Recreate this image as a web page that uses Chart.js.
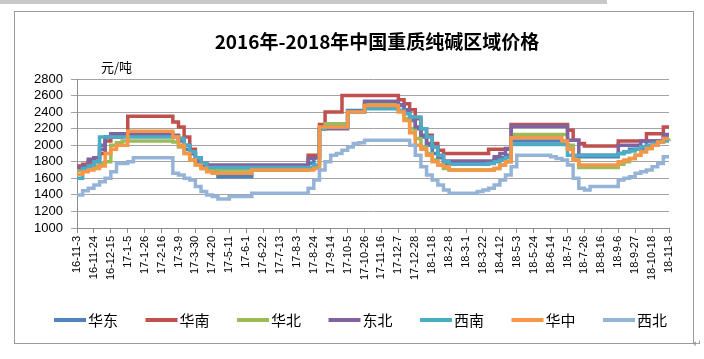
<!DOCTYPE html>
<html><head><meta charset="utf-8">
<script src="https://cdn.jsdelivr.net/npm/chart.js@4"></script>
<style>
html,body{margin:0;padding:0;background:#fff;}
#wrap{position:relative;width:704px;height:359px;overflow:hidden;background:#fff;}
#c{position:absolute;left:0;top:0;}
#topbar{position:absolute;left:0;top:0;width:607px;height:4px;background:#c8c8c8;}
#frame{position:absolute;left:14px;top:11px;width:678px;height:331px;border:1px solid #9a9a9a;pointer-events:none;}
#ret{position:absolute;left:693px;top:338px;font:10px 'DejaVu Sans';color:#888;}
</style></head>
<body><div id="wrap"><canvas id="c" width="704" height="359"></canvas><div id="topbar"></div><div id="frame"></div><span id="ret">↵</span></div>
<script>
const titleText = '2016年-2018年中国重质纯碱区域价格';
const unitText = '元/吨';
const tickLabels = ['16-11-3','16-11-24','16-12-15','17-1-5','17-1-26','17-2-16','17-3-9','17-3-30','17-4-20','17-5-11','17-6-1','17-6-22','17-7-13','17-8-3','17-8-24','17-9-14','17-10-5','17-10-26','17-11-16','17-12-7','17-12-28','18-1-18','18-2-8','18-3-1','18-3-22','18-4-12','18-5-3','18-5-24','18-6-14','18-7-5','18-7-26','18-8-16','18-9-6','18-9-27','18-10-18','18-11-8'];
const seriesNames = ['华东','华南','华北','东北','西南','华中','西北'];
const seriesColors = ['#4F81BD','#C0504D','#9BBB59','#8064A2','#4BACC6','#F79646','#95B3D7'];

// weekly categories from 16-11-3 to 18-11-8
const categories = [];
for (let k = 0; k < 106; k++) {
  const d = new Date(2016, 10, 3 + 7 * k);
  categories.push(String(d.getFullYear()).slice(2) + '-' + (d.getMonth() + 1) + '-' + d.getDate());
}

const huadong = [1700,1720,1760,1800,2000,2100,
 2120,2120,2120,2120,2120,2120,2120,2120,2120,2120,2120,
 2100,2050,1950,1900,1800,1750,1700,1680,
 1620,1620,1620,1620,1620,1620,
 1700,1700,1700,1700,1700,1700,1700,1700,1700,1700,
 1780,1850,2200,
 2220,2220,2220,2220,
 2420,2420,2420,
 2500,2500,2500,2500,2500,2500,
 2480,2400,2300,2200,2100,2000,1900,1850,
 1780,1780,1780,1780,1780,1780,1780,1780,
 1800,1830,1850,1880,
 2050,2050,2050,2050,2050,2050,2050,2050,2050,2050,
 1950,1870,
 1860,1860,1860,1860,1860,1860,1860,
 1900,1920,
 1950,1950,1950,
 2050,2050,2050,
 2100,2100];

const huanan = [1750,1770,1800,1850,1900,2050,2100,2100,2120,
 2350,2350,2350,2350,2350,2350,2350,2350,
 2280,2220,2100,1950,1850,1780,
 1750,1750,1750,1750,1750,1750,1750,1750,1750,1750,1750,1750,1750,1750,1750,1750,1750,1750,
 1880,1880,2250,2400,2400,2400,
 2600,2600,2600,2600,2600,2600,2600,2600,2600,2600,
 2550,2500,2430,2320,2200,2120,2020,1940,
 1900,1900,1900,1900,1900,1900,1900,1900,
 1950,1950,1950,1950,
 2250,2250,2250,2250,2250,2250,2250,2250,2250,2250,
 2180,2060,
 2020,
 1990,1990,1990,1990,1990,1990,
 2050,2050,2050,2050,2050,
 2140,2140,2140,
 2220,2220];

const huabei = [1700,1700,1720,1750,1780,1800,2000,2030,
 2050,2050,2050,2050,2050,2050,2050,2050,2050,
 2040,1980,1900,1820,1760,1720,
 1700,1700,1700,1700,1700,1700,1700,1700,1700,1700,1700,1700,1700,1700,1700,1700,1700,1700,
 1720,1750,2200,
 2260,2260,2260,2260,
 2400,2400,2400,
 2490,2490,2490,2490,2490,2490,
 2420,2320,2200,2080,1980,1900,1820,1760,1720,
 1700,1700,1700,1700,1700,1700,1700,1700,
 1720,1760,1800,
 2130,2130,2130,2130,2130,2130,2130,2130,2130,
 2130,2000,1820,
 1730,1730,1730,1730,1730,1730,1730,
 1770,1800,1840,1880,1920,1960,2000,2040,2070,2080];

const dongbei = [1730,1750,1830,1850,1950,2100,
 2140,2140,2140,2140,2140,2140,2140,2140,2140,2140,2140,
 2120,2080,2000,1900,1820,1780,
 1760,1760,1760,1760,1760,1760,1760,1760,1760,1760,1760,1760,1760,1760,1760,1760,1760,1760,
 1840,1850,
 2200,2200,2200,2200,2200,
 2400,2400,2400,
 2530,2530,2530,2530,2530,2530,
 2490,2430,2340,2220,2120,2020,1980,1860,
 1810,1810,1810,1810,1810,1810,1810,1810,1810,
 1860,1900,1960,
 2230,2230,2230,2230,2230,2230,2230,2230,2230,2230,
 2060,2060,
 1880,1880,1880,1880,1880,1880,1880,
 2000,2000,2000,2000,
 2050,2050,2050,2050,
 2130,2130];

const xinan = [1600,1720,1750,1800,
 2100,2100,2100,2100,2100,2100,2100,2100,2100,2100,2100,2100,2100,
 2100,2080,2000,1920,1850,1780,
 1730,1730,1730,1730,1730,1730,1730,1730,1730,1730,1730,1730,1730,1730,1730,1730,1730,1730,
 1730,1760,2200,
 2220,2220,2220,2220,
 2400,2400,2400,
 2440,2440,2440,2440,2440,2440,
 2420,2380,2340,2340,2200,2100,1980,1880,1800,
 1770,1770,1770,1770,1770,1770,1770,
 1780,1800,1820,1850,
 2010,2010,2010,2010,2010,2010,2010,2010,2010,2010,
 1880,1880,1880,1880,1880,1880,1880,1880,1880,
 1900,1920,1930,1950,1980,2000,2020,2040,2050,2050];

const huazhong = [1650,1680,1700,1720,1750,1900,1950,2000,2000,
 2170,2170,2170,2170,2170,2170,2170,2170,
 2100,2000,1900,1820,1760,1720,1680,
 1660,1660,1660,1660,1660,1660,1660,
 1700,1700,1700,1700,1700,1700,1700,1700,1700,1700,
 1700,1720,
 2220,2220,2220,2220,2220,
 2400,2400,2400,
 2480,2480,2480,2480,2480,2480,
 2400,2300,2150,2000,1950,1880,1800,1760,1740,
 1700,1700,1700,1700,1700,1700,1700,1700,
 1720,1760,1800,
 2090,2090,2090,2090,2090,2090,2090,2090,2090,
 2050,1950,1820,
 1760,1760,1760,1760,1760,1760,1760,
 1800,1820,1840,1880,1920,1960,2000,2040,2080,2080];

const xibei = [1400,1450,1480,1520,1560,1600,1680,1780,1780,1800,
 1850,1850,1850,1850,1850,1850,1850,
 1660,1640,1600,1580,1500,1440,1400,1380,
 1350,1350,
 1380,1380,1380,1380,
 1420,1420,1420,1420,1420,1420,1420,1420,1420,1420,
 1480,1580,1700,1800,1880,1900,1940,1980,2020,2030,
 2060,2060,2060,2060,2060,2060,2060,2060,
 2000,1880,1740,1640,1580,1520,1460,
 1420,1420,1420,1420,1420,
 1440,1460,1480,1520,1580,1640,1740,
 1880,1880,1880,1880,1880,1880,
 1860,1840,1820,1760,1600,1480,1460,
 1500,1500,1500,1500,1500,
 1580,1600,1620,1660,1680,1700,1740,1780,1860,1860];

const seriesValues = [huadong, huanan, huabei, dongbei, xinan, huazhong, xibei];

const yMin = 1000, yMax = 2800, yStep = 200;

const datasets = seriesNames.map((name, k) => ({
  label: name,
  data: seriesValues[k],
  borderColor: seriesColors[k],
  backgroundColor: seriesColors[k],
  borderWidth: 3.5,
  pointRadius: 0,
  stepped: true,
  fill: false,
  order: seriesNames.length - 1 - k
}));

// title, unit label and legend drawn on the chart canvas
const textPlugin = {
  id: 'texts',
  afterDraw(chart) {
    const ctx = chart.ctx;
    ctx.save();
    ctx.fillStyle = '#000';
    ctx.textBaseline = 'middle';
    ctx.textAlign = 'center';
    ctx.font = "bold 19px 'Noto Sans CJK SC'";
    ctx.fillText(titleText, 377, 42);
    ctx.textAlign = 'left';
    ctx.font = "13px 'Noto Sans CJK SC'";
    ctx.fillText(unitText, 101, 67);
    // legend
    const legY = 320, pitch = 91.5, x0 = 54;
    ctx.font = "15px 'Noto Sans CJK SC'";
    chart.data.datasets.forEach((ds, k) => {
      const x = x0 + k * pitch;
      ctx.fillStyle = ds.borderColor;
      ctx.fillRect(x, legY - 2, 32, 4);
      ctx.fillStyle = '#000';
      ctx.fillText(ds.label, x + 34, legY);
    });
    ctx.restore();
  }
};

new Chart(document.getElementById('c'), {
  type: 'line',
  data: { labels: categories, datasets },
  plugins: [textPlugin],
  options: {
    responsive: false,
    devicePixelRatio: 1,
    animation: false,
    events: [],
    layout: { padding: { left: 10, right: 35, top: 79, bottom: 56 } },
    plugins: {
      title: { display: false },
      tooltip: { enabled: false },
      legend: { display: false }
    },
    scales: {
      x: {
        type: 'category',
        offset: false,
        afterFit: (s) => { s.height = 75; },
        grid: {
          drawOnChartArea: false,
          drawTicks: true,
          tickLength: 5,
          color: (c) => (c.index % 3 === 0 ? '#8c8c8c' : 'rgba(0,0,0,0)')
        },
        border: { display: true, color: '#8c8c8c' },
        ticks: {
          autoSkip: false,
          minRotation: 90,
          maxRotation: 90,
          padding: 3,
          color: '#000',
          font: { family: "'Liberation Sans'", size: 11 },
          callback: (v, i) => (i % 3 === 0 ? tickLabels[i / 3] : '')
        }
      },
      y: {
        min: yMin,
        max: yMax,
        afterFit: (s) => { s.width = 67; },
        grid: { color: '#a3a3a3', tickLength: 6, drawTicks: true },
        border: { display: true, color: '#8c8c8c' },
        ticks: {
          stepSize: yStep,
          autoSkip: false,
          padding: 8,
          color: '#000',
          font: { family: "'Liberation Sans'", size: 13 },
          callback: (v) => String(v)
        }
      }
    }
  }
});
</script>
</body></html>
